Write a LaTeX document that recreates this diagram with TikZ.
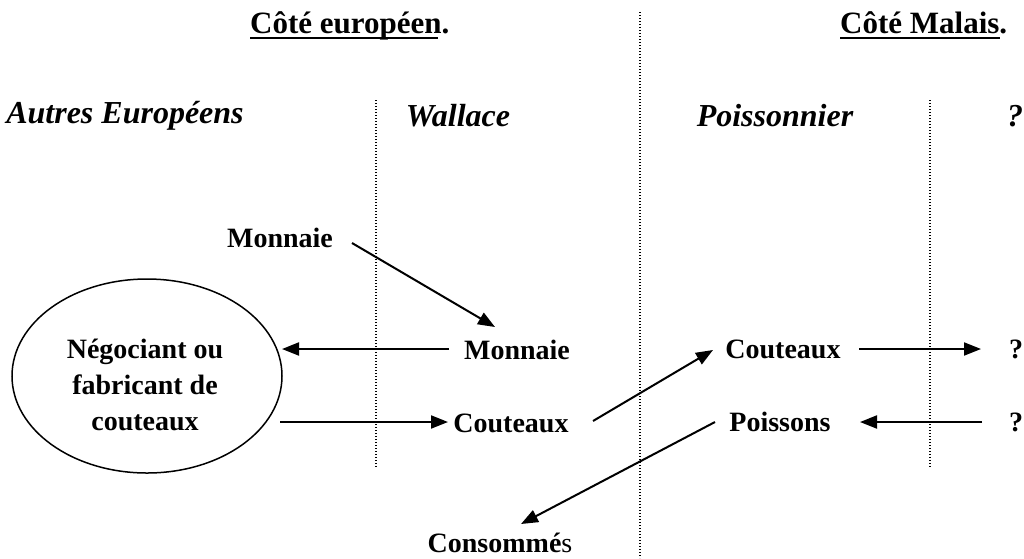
\documentclass[tikz,border=0pt]{standalone}
\usepackage{fontspec}
\setmainfont{Liberation Serif}
\usetikzlibrary{arrows.meta,calc,shapes.geometric}
\begin{document}
\begin{tikzpicture}[x=1pt,y=-1pt,
  lbl/.style={font=\fontsize{28}{34}\selectfont\bfseries, inner sep=0pt},
  hdr/.style={font=\fontsize{32}{38}\selectfont\bfseries\itshape, inner sep=0pt},
  ttl/.style={font=\fontsize{31}{36}\selectfont\bfseries, inner sep=0pt},
  uline/.style={line width=1.8pt},
  arr/.style={line width=2pt, -{Triangle[length=17pt,width=13pt]}},
  sep/.style={line width=1.2pt, dash pattern=on 1.2pt off 1.8pt}]
\useasboundingbox[fill=white] (0,0) rectangle (1024,558);
% separators
\draw[sep] (640,12) -- (640,558);
\draw[sep] (376,100) -- (376,468);
\draw[sep] (930,100) -- (930,468);
% titles
\node[ttl, anchor=base west] (t1) at (250,33) {Côté européen.};
\node[ttl, anchor=base west] (t2) at (840,33) {Côté Malais.};
\draw[uline] ($(t1.base west)+(0,5)$) -- ($(t1.base west)+(188,5)$);
\draw[uline] ($(t2.base west)+(0,5)$) -- ($(t2.base west)+(160,5)$);
% headers
\node[hdr] (h1) at (125,116) {Autres Européens};
\node[hdr] (h2) at (458,116) {Wallace};
\node[hdr] (h3) at (775,116) {Poissonnier};
\node[hdr] (h4) at (1015,116) {?};
% nodes
\node[lbl] (m1) at (280,238) {Monnaie};
\node[lbl] (m2) at (517,350) {Monnaie};
\node[draw, ellipse, line width=1.5pt, minimum width=270pt, minimum height=194pt, inner sep=0pt] (ell) at (147,376) {};
\node[font=\fontsize{28}{36}\selectfont\bfseries, align=center, inner sep=0pt] (ellt) at (145,385)
      {Négociant ou\\fabricant de\\couteaux};
\node[lbl] (c1) at (511,423) {Couteaux};
\node[lbl] (c2) at (783,349) {Couteaux};
\node[lbl] (q1) at (1016,349) {?};
\node[lbl] (p) at (780,422) {Poissons};
\node[lbl] (q2) at (1016,422) {?};
\node[font=\fontsize{28}{34}\selectfont, inner sep=0pt] (cons) at (500,543) {{\bfseries Consommé}s};
% arrows
\draw[arr] ($(m1)+(72,5)$) -- ($(m2)+(-22,-23)$);
\draw[arr] ($(m2)+(-68,-1)$) -- ($(ell)+(135,-27)$);
\draw[arr] ($(ell)+(133,46)$) -- ($(c1)+(-63,-1)$);
\draw[arr] ($(c1)+(82,-2)$) -- ($(c2)+(-70,1)$);
\draw[arr] ($(c2)+(76,0)$) -- ($(q1)+(-35,0)$);
\draw[arr] ($(q2)+(-34,0)$) -- ($(p)+(80,0)$);
\draw[arr] ($(p)+(-65,0)$) -- ($(cons)+(21,-19)$);
\end{tikzpicture}
\end{document}
